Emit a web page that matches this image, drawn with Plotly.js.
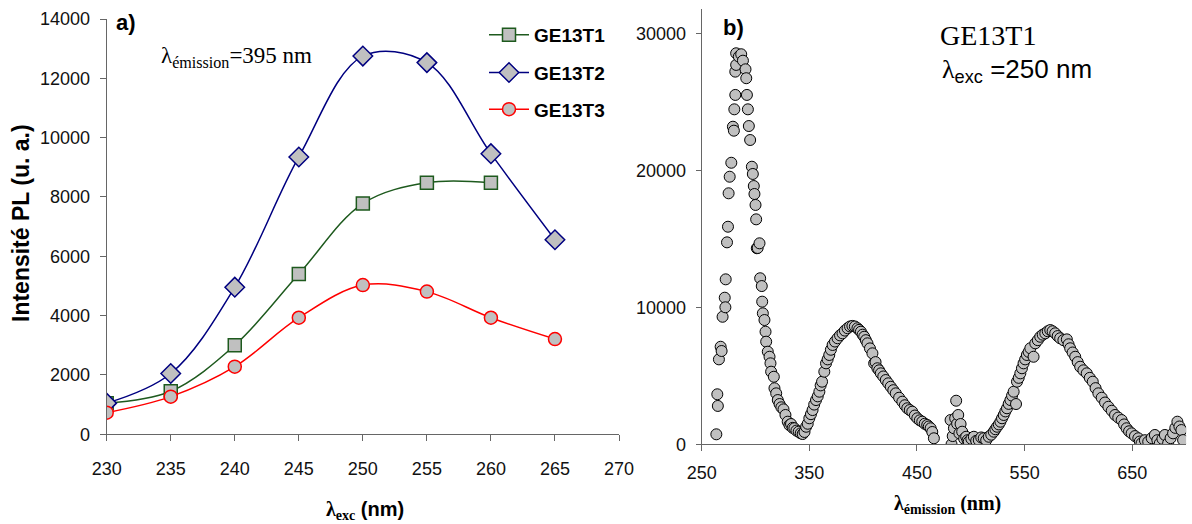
<!DOCTYPE html>
<html><head><meta charset="utf-8">
<script src="https://cdn.plot.ly/plotly-3.0.1.min.js"></script>
<style>html,body{margin:0;padding:0;background:#fff}#chart{width:1192px;height:524px}</style>
</head><body><div id="chart"></div>
<script>
// ---- Panel a) data: PL intensity vs excitation wavelength (emission 395 nm)
const excWavelength = [230, 235, 240, 245, 250, 255, 260, 265];
const ge13t1 = [1050, 1450, 3000, 5400, 7780, 8480, 8480, null];
const ge13t2 = [1050, 2050, 4960, 9350, 12750, 12530, 9460, 6560];
const ge13t3 = [730, 1270, 2280, 3930, 5030, 4810, 3930, 3210];
const seriesNames = ["GE13T1", "GE13T2", "GE13T3"];
const xTicksA = [230, 235, 240, 245, 250, 255, 260, 265, 270];
const yTicksA = [0, 2000, 4000, 6000, 8000, 10000, 12000, 14000];

// ---- Panel b) data: emission spectrum of GE13T1 (excitation 250 nm)
const emWavelength = [263.6,264.5,265,266,267.6,268.5,269.4,271.4,272,272.3,273.5,274.4,275,276,277.5,279,279.9,280.3,281.2,281.2,282,282,284.5,286.7,288.3,290.7,291.4,292,292.9,293.8,295,296.6,297.5,298.4,299,300,300.6,301.2,302,303.7,304.3,305.8,306.2,306.8,308.3,309.3,309.9,311.4,313,313.9,314.5,317,317.6,319.2,320.7,322.3,324,326,327.8,329.9,331.5,333,334.5,336.1,338,340.1,342,343.8,345.5,347,348.5,350,351.5,353,354.5,356.2,357.8,359.3,360.5,361.8,363.9,365.5,367,368.5,370,371.6,373.8,376.2,378.5,380.8,383,385.5,387.8,390,392.3,394.7,396.2,397.9,399.5,401,402.5,404,406.3,408.6,410.2,411.5,413.2,414.8,416.4,418.7,421,423.3,425.6,428,430.3,433.4,436.4,438.7,441,443.3,445.6,448,450.3,452.6,454.9,457.2,459.5,461,462.7,464.2,465.7,481.2,482.1,483.2,484.3,485.5,486.4,487.3,488.3,489.4,490.5,492,493.8,495.7,497,498.1,500.5,502.8,505,507.4,509.7,512,514.3,516.7,519,521.3,522.8,524.4,526,527.5,529,530.6,532.1,533.6,535.2,536.8,538.3,539.8,542,542.9,544.5,546,547.5,549,550.5,552.1,553.7,555.3,558.3,559.9,562.2,564.5,566.8,569.2,571.5,573.8,576,578.4,580.7,583,586,589.2,590.8,592.3,594.6,597,599.3,601.6,604.6,607.7,610.5,613.3,615.9,618.5,621.6,624.7,627.8,630.9,634,637,640.1,642.4,644.7,647,649.4,652.5,655.6,657,658.6,661.7,664.8,668,671,673.3,675.6,678,680.3,683.3,685.6,687.9,690,691.9,693.8,695.6,697.2];
const emIntensity = [730,3650,2800,6200,7120,6810,9310,10700,10000,12040,14740,15880,18320,19530,20550,23180,22890,24450,25500,27200,27690,28540,28300,28470,28000,27370,26720,25500,24450,23230,22210,20260,19730,18850,18270,17470,16420,14310,14330,14670,12120,11550,10410,9560,9070,8220,7490,6760,6390,5910,5300,4930,4090,3720,3230,2940,2700,2550,2140,1650,1400,1480,1200,1170,1000,920,800,750,900,1280,1500,1900,2200,2500,2900,3230,3500,3840,4300,4570,5300,5910,6200,6520,6900,7250,7500,7740,7950,8100,8300,8470,8600,8640,8600,8470,8350,8220,8000,7850,7600,7370,7000,6640,5910,6000,5550,5400,5180,4950,4690,4450,4200,3950,3720,3400,3110,2850,2630,2500,2380,2100,1900,1750,1650,1500,1410,1300,1170,900,440,1770,0,600,1170,1900,3180,1500,2140,800,1480,920,400,550,300,190,400,550,250,310,500,440,300,550,700,920,1100,1280,1450,1650,1900,2140,2400,2630,2950,3230,3550,3840,2940,4570,4850,5180,5550,5910,6200,6520,6750,7010,6390,7370,7600,7850,8000,8100,8250,8340,8250,8100,7900,7740,7600,7660,7300,7010,6700,6390,6000,5660,5400,5180,4850,4570,4100,3720,3400,3050,2740,2450,2140,1950,1770,1450,1170,950,800,600,440,200,70,300,190,450,680,300,70,400,680,70,450,800,1200,1650,1300,1040,310];
const xTicksB = [250, 350, 450, 550, 650];
const yTicksB = [0, 10000, 20000, 30000];

const W = 1192, H = 524;
const fx = px => px / W;
const fy = py => 1 - py / H;
const SANS = "Liberation Sans, Arial, sans-serif";
const SERIF = "Liberation Serif, Times New Roman, serif";
const AX = "#666666";
const FILL = "#c0c0c0";

const traces = [
  {x: excWavelength, y: ge13t1, name: seriesNames[0], type: "scatter", mode: "lines+markers",
   line: {color: "#1e5a1e", width: 1.5, shape: "spline"}, connectgaps: false,
   marker: {symbol: "square", size: 13, color: FILL, line: {color: "#1e5a1e", width: 1.5}},
   xaxis: "x", yaxis: "y", legend: "legend"},
  {x: excWavelength, y: ge13t2, name: seriesNames[1], type: "scatter", mode: "lines+markers",
   line: {color: "#000080", width: 1.5, shape: "spline"},
   marker: {symbol: "diamond", size: 15, color: FILL, line: {color: "#000080", width: 1.5}},
   xaxis: "x", yaxis: "y", legend: "legend2"},
  {x: excWavelength, y: ge13t3, name: seriesNames[2], type: "scatter", mode: "lines+markers",
   line: {color: "#ff0000", width: 1.5, shape: "spline"},
   marker: {symbol: "circle", size: 13, color: FILL, line: {color: "#ff0000", width: 1.5}},
   xaxis: "x", yaxis: "y", legend: "legend3"},
  {x: emWavelength, y: emIntensity, name: "GE13T1 emission", type: "scatter", mode: "markers",
   marker: {symbol: "circle", size: 11, color: FILL, line: {color: "#000000", width: 1}},
   xaxis: "x2", yaxis: "y2", showlegend: false}
];

const axisCommon = {showline: true, linecolor: AX, linewidth: 1, ticks: "outside", tickcolor: AX,
  ticklen: 6, tickwidth: 1, showgrid: false, zeroline: false, fixedrange: true, tickformat: "d",
  tickfont: {family: SANS, size: 18, color: "#111"}};

const legendCommon = {xanchor: "left", yanchor: "middle", bgcolor: "rgba(0,0,0,0)", borderwidth: 0,
  font: {family: SANS, size: 19, color: "#000", weight: "bold"}, itemwidth: 40};

const layout = {
  width: W, height: H, margin: {l: 0, r: 0, t: 0, b: 0}, paper_bgcolor: "#fff", plot_bgcolor: "#fff",
  showlegend: true,
  xaxis: Object.assign({}, axisCommon, {domain: [fx(106.7), fx(619)], range: [230, 270],
    tickmode: "array", tickvals: xTicksA, anchor: "y", ticklabelstandoff: 12}),
  yaxis: Object.assign({}, axisCommon, {domain: [fy(434.3), fy(19)], range: [0, 14000],
    tickmode: "array", tickvals: yTicksA, anchor: "x", ticklabelstandoff: 6}),
  xaxis2: Object.assign({}, axisCommon, {domain: [fx(701.7), fx(1186.1)], range: [250, 700],
    tickmode: "array", tickvals: xTicksB, anchor: "y2", ticklabelstandoff: 6}),
  yaxis2: Object.assign({}, axisCommon, {domain: [fy(444.3), fy(9.3)], range: [0, 31750],
    tickmode: "array", tickvals: yTicksB, anchor: "x2", ticklabelstandoff: 6, ticklen: 5}),
  legend: Object.assign({}, legendCommon, {x: fx(484), y: fy(35)}),
  legend2: Object.assign({}, legendCommon, {x: fx(484), y: fy(72.7)}),
  legend3: Object.assign({}, legendCommon, {x: fx(484), y: fy(109.3)}),
  annotations: [
    {text: "<b>a)</b>", xref: "paper", yref: "paper", x: fx(126), y: fy(23), showarrow: false,
     xanchor: "center", yanchor: "middle", font: {family: SANS, size: 22, color: "#000"}},
    {text: "λ<sub>émission</sub>=395 nm", xref: "paper", yref: "paper", x: fx(159), y: fy(57), showarrow: false,
     xanchor: "left", yanchor: "middle", font: {family: SERIF, size: 23, color: "#000"}},
    {text: "<b>b)</b>", xref: "paper", yref: "paper", x: fx(733), y: fy(28), showarrow: false,
     xanchor: "center", yanchor: "middle", font: {family: SANS, size: 22, color: "#000"}},
    {text: "GE13T1", xref: "paper", yref: "paper", x: fx(938), y: fy(35), showarrow: false,
     xanchor: "left", yanchor: "middle", font: {family: SERIF, size: 28, color: "#000"}},
    {text: "<span style=\"font-family:Liberation Serif\">λ</span><sub>exc</sub> =250 nm", xref: "paper", yref: "paper",
     x: fx(940), y: fy(70), showarrow: false, xanchor: "left", yanchor: "middle",
     font: {family: SANS, size: 26, color: "#000"}},
    {text: "<b><span style=\"font-family:Liberation Serif\">λ<sub>exc</sub></span> (nm)</b>", xref: "paper", yref: "paper",
     x: fx(365), y: fy(510), showarrow: false, xanchor: "center", yanchor: "middle",
     font: {family: SANS, size: 20, color: "#000"}},
    {text: "<b>λ<sub>émission</sub> (nm)</b>", xref: "paper", yref: "paper",
     x: fx(947), y: fy(504), showarrow: false, xanchor: "center", yanchor: "middle",
     font: {family: SERIF, size: 20, color: "#000"}},
    {text: "<b>Intensité PL (u. a.)</b>", xref: "paper", yref: "paper", x: fx(21), y: fy(223),
     showarrow: false, textangle: -90, xanchor: "center", yanchor: "middle",
     font: {family: SANS, size: 23, color: "#000"}}
  ]
};

Plotly.newPlot("chart", traces, layout, {displayModeBar: false, staticPlot: true});
</script>
</body></html>
